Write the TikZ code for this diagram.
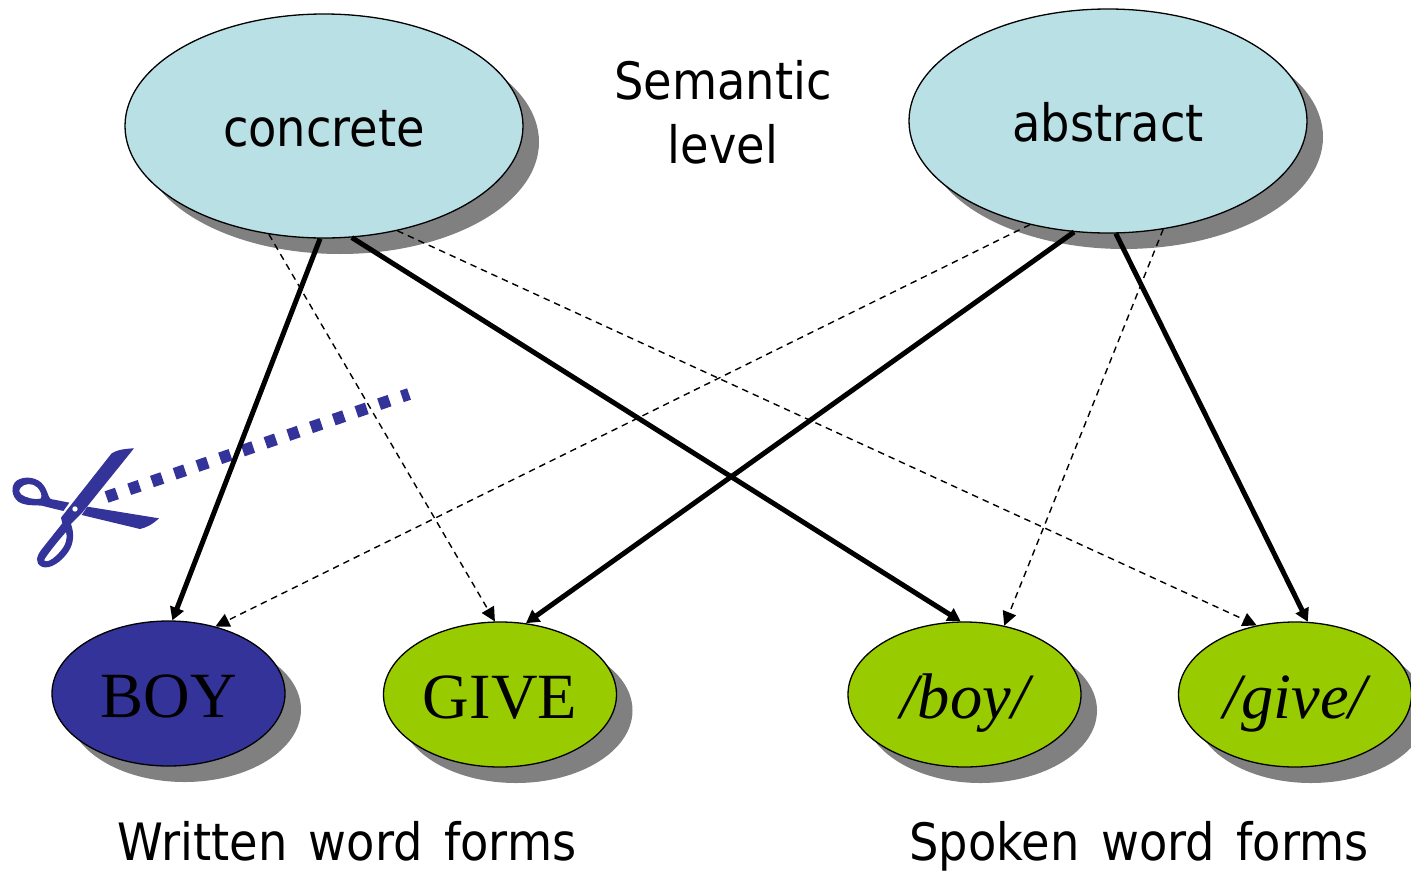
\documentclass[tikz,border=0pt]{standalone}
\usepackage{fontspec}
\setmainfont{Liberation Serif}
\newfontfamily\labelfont[FakeStretch=0.9,WordSpace=1.45]{DejaVu Sans}
\usetikzlibrary{arrows.meta,shapes.geometric,shadows}
\definecolor{paleblue}{HTML}{B9E0E4}
\definecolor{leaf}{HTML}{99CC00}
\definecolor{indigo}{HTML}{333399}
\definecolor{shade}{HTML}{808080}
\tikzset{
  blob/.style={ellipse,draw=black,line width=1.3pt,inner sep=0pt,text=black,
    drop shadow={shadow xshift=16pt,shadow yshift=-16pt,fill=shade,opacity=1}},
  meaning/.style={blob,fill=paleblue,minimum width=398pt,minimum height=224pt,
    font=\labelfont\fontsize{51.5}{51.5}\selectfont,text height=40pt,text depth=0pt},
  wordform/.style={blob,minimum width=233pt,minimum height=145pt,
    font=\fontsize{64.5}{64.5}\selectfont,text height=47pt,text depth=0pt},
  caption/.style={anchor=base,inner sep=0pt,font=\labelfont\fontsize{51.5}{51.5}\selectfont},
  strong/.style={line width=5pt,-{Triangle[length=13pt,width=14pt]}},
  weak/.style={line width=1.4pt,dash pattern=on 6.5pt off 5pt,-{Triangle[length=14pt,width=14pt]}},
  cutline/.style={indigo,line width=12pt,dash pattern=on 11pt off 13pt},
}
\begin{document}
\begin{tikzpicture}[x=1pt,y=-1pt]
\useasboundingbox (0,0) rectangle (1411,873);
% scissors and cut line
\coordinate (cutA) at (106.5,497);
\coordinate (cutB) at (409,394);
\draw[cutline] (cutA) -- (cutB);
\begin{scope}[shift={(0,380)},x=0.3333pt,y=-0.3333pt]
\fill[indigo,even odd rule]
  (402,205) .. controls (375,206) and (350,210) .. (335,220) -- (183,413) -- (187,430)
  -- (125,508) .. controls (108,530) and (105,550) .. (125,560)
  .. controls (150,570) and (185,545) .. (205,515)
  .. controls (222,490) and (223,460) .. (213,432) -- (245,400) -- cycle
  (134,537) .. controls (148,515) and (175,482) .. (198,456)
  .. controls (204,472) and (198,495) .. (180,515)
  .. controls (165,533) and (148,545) .. (138,544) .. controls (132,543) and (131,541) .. (134,537) -- cycle;
\fill[indigo] (262,380) -- (477,415) .. controls (455,435) and (440,442) .. (420,447) -- (245,405) -- cycle;
\fill[indigo,even odd rule]
  (208,368) -- (152,357) .. controls (143,350) and (145,335) .. (130,315)
  .. controls (115,293) and (75,285) .. (50,302)
  .. controls (30,318) and (35,350) .. (55,365)
  .. controls (75,378) and (100,375) .. (125,377) -- (190,393) -- cycle
  (63,322) .. controls (72,310) and (98,308) .. (112,322)
  .. controls (122,332) and (128,348) .. (122,356)
  .. controls (105,360) and (78,354) .. (63,343) .. controls (56,337) and (56,330) .. (63,322) -- cycle;
\fill[white] (225,387) circle[radius=8];
\end{scope}
% nodes
\node[meaning] (concrete) at (324,126) {concrete};
\node[meaning] (abstract) at (1108,121) {abstract};
\node[wordform,fill=indigo] (boy) at (168.5,693.5) {BOY};
\node[wordform,fill=leaf] (give) at (500,694.5) {GIVE};
\node[wordform,fill=leaf] (sboy) at (964.5,694.5) {\itshape /boy/};
\node[wordform,fill=leaf] (sgive) at (1295,694.5) {\itshape /give/};
\node[caption] (semantic) at (723,99) {Semantic};
\node[caption] (level) at (723,163) {level};
\node[caption] (written) at (347,860) {Written word forms};
\node[caption] (spoken) at (1139,860) {Spoken word forms};
% connectors
\draw[strong] (concrete.-92) -- (boy.87);
\draw[strong] (concrete.-76) -- (sboy.93);
\draw[strong] (abstract.-107.4) -- (give.70);
\draw[strong] (abstract.-86.4) -- (sgive.80.5);
\draw[weak] (concrete.-117) -- (give.94);
\draw[weak] (concrete.-55.4) -- (sgive.119);
\draw[weak] (abstract.-127.7) -- (boy.55);
\draw[weak] (abstract.-63) -- (sboy.60.7);
\end{tikzpicture}
\end{document}
